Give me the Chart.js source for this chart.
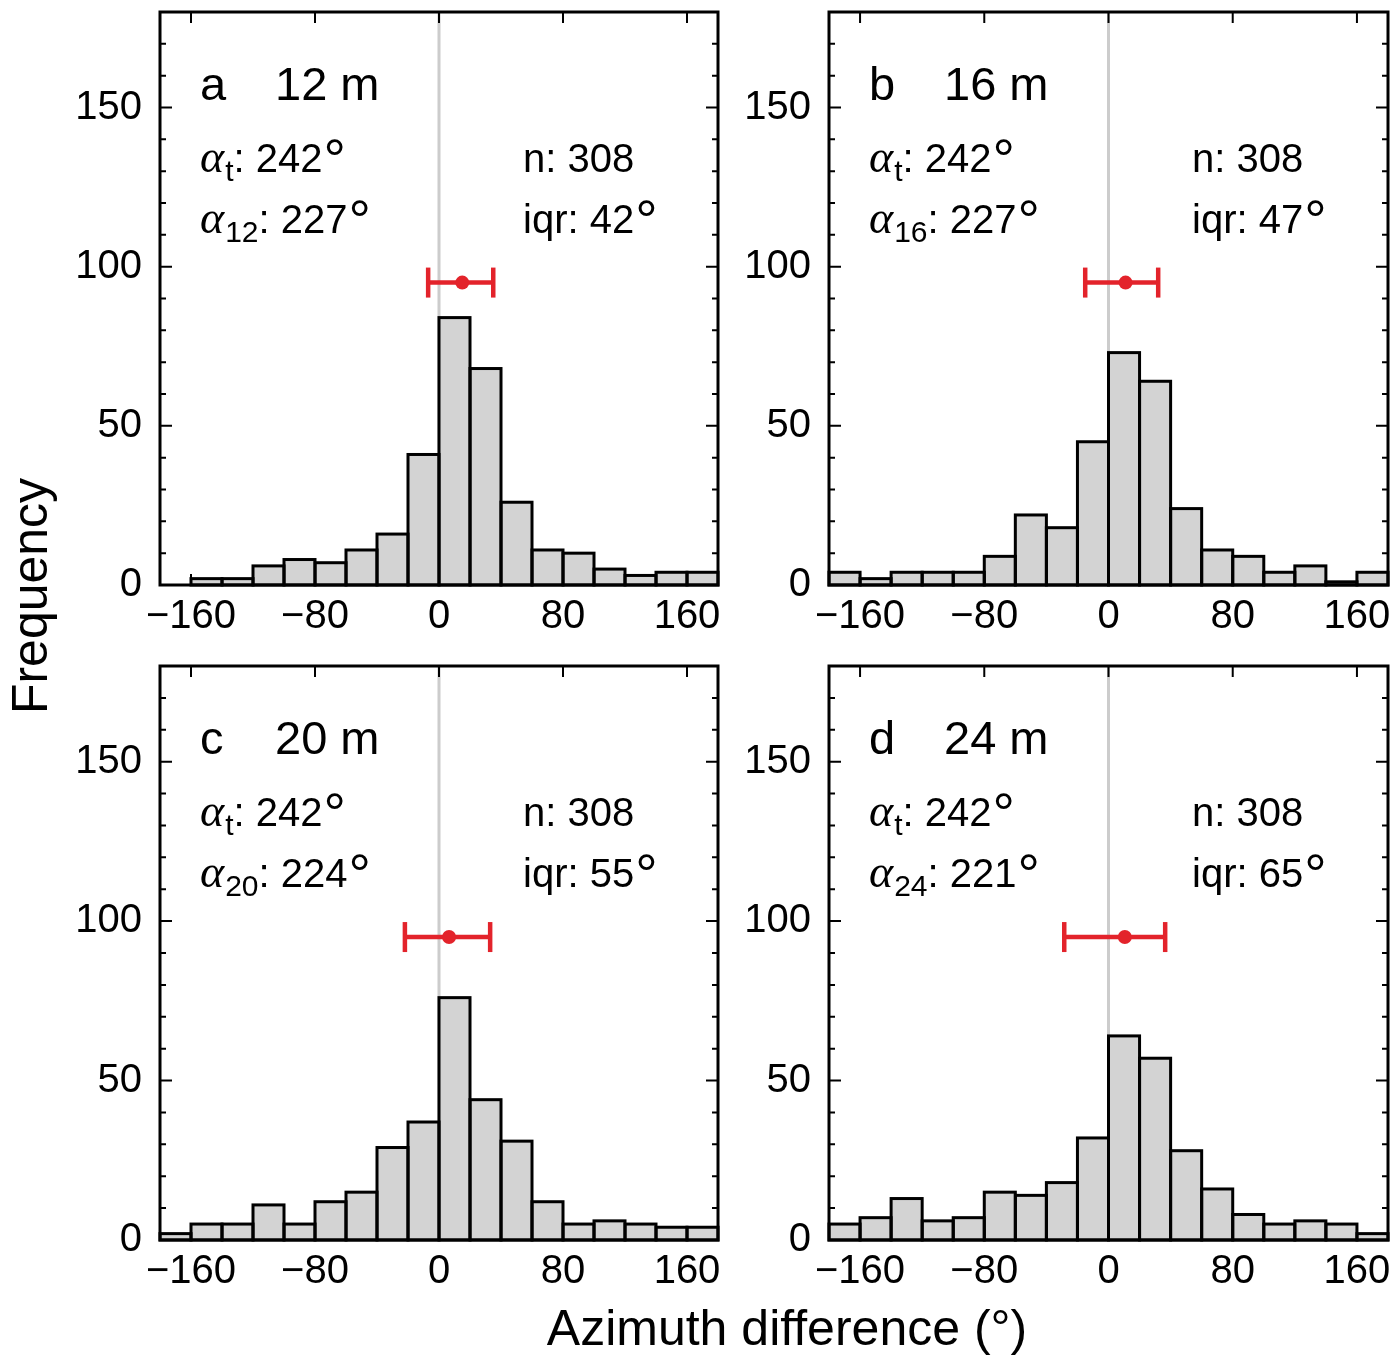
<!DOCTYPE html>
<html>
<head>
<meta charset="utf-8">
<title>Azimuth difference histograms</title>
<script src="https://cdn.jsdelivr.net/npm/chart.js@4.4.1/dist/chart.umd.min.js"></script>
<style>
  html, body { margin: 0; padding: 0; background: #fff; }
  body { width: 1400px; height: 1364px; position: relative; overflow: hidden; font-family: "Liberation Sans", Arial, sans-serif; color: #000; }
  canvas { position: absolute; }
  .axis-title { position: absolute; font-size: 50px; white-space: nowrap; transform: translate(-50%, -50%); }
  #yTitle { left: 30px; top: 596px; transform: translate(-50%, -50%) rotate(-90deg); }
  #xTitle { left: 787px; top: 1328px; }
</style>
</head>
<body>
<canvas id="panelA"></canvas>
<canvas id="panelB"></canvas>
<canvas id="panelC"></canvas>
<canvas id="panelD"></canvas>
<div id="yTitle" class="axis-title">Frequency</div>
<div id="xTitle" class="axis-title">Azimuth difference (°)</div>
<script>
// Centros de las clases (20 grados cada una)
const binCenters = [-170, -150, -130, -110, -90, -70, -50, -30, -10, 10, 30, 50, 70, 90, 110, 130, 150, 170];

// Frecuencias por panel
const counts12 = [0, 2, 2, 6, 8, 7, 11, 16, 41, 84, 68, 26, 11, 10, 5, 3, 4, 4];
const counts16 = [4, 2, 4, 4, 4, 9, 22, 18, 45, 73, 64, 24, 11, 9, 4, 6, 1, 4];
const counts20 = [2, 5, 5, 11, 5, 12, 15, 29, 37, 76, 44, 31, 12, 5, 6, 5, 4, 4];
const counts24 = [5, 7, 13, 6, 7, 15, 14, 18, 32, 64, 57, 28, 16, 8, 5, 6, 5, 2];
const panelCounts = [counts12, counts16, counts20, counts24];

// Cuartiles y mediana (barra roja)
const q1Values = [-7, -15, -22, -28.5];
const medianValues = [15, 11, 6.5, 10.5];
const q3Values = [35, 32, 33, 36.5];
const markerLevel = 95;
const referenceAzimuth = 0;

// Textos de cada panel
const panelLetters = ['a', 'b', 'c', 'd'];
const panelDepths = ['12 m', '16 m', '20 m', '24 m'];
const alphaTrue = [242, 242, 242, 242];
const alphaSubs = ['12', '16', '20', '24'];
const alphaValues = [227, 227, 224, 221];
const nValues = [308, 308, 308, 308];
const iqrValues = [42, 47, 55, 65];

// Ejes
const xTickValues = [-160, -80, 0, 80, 160];
const xTickLabels = ['\u2212160', '\u221280', '0', '80', '160'];
const yTickValues = [0, 50, 100, 150];
const yMinorValues = [10, 20, 30, 40, 60, 70, 80, 90, 110, 120, 130, 140, 160, 170];

// Caja de cada grafico en la pagina
const panelBoxes = [
    { id: 'panelA', l: 160, r: 718, t: 12, b: 585 },
    { id: 'panelB', l: 829, r: 1388, t: 12, b: 585 },
    { id: 'panelC', l: 160, r: 718, t: 666, b: 1240 },
    { id: 'panelD', l: 829, r: 1388, t: 666, b: 1240 }
];

const RED = '#e3232b';
const LEFT_GUTTER = 100;
const BOTTOM_GUTTER = 60;
const PAD = 12;

// Contorno de las barras centrado en el borde (como un histograma)
const barOutline = {
    id: 'barOutline',
    afterDatasetDraw(chart, args) {
        if (args.meta.type !== 'bar') return;
        const ctx = chart.ctx;
        ctx.save();
        ctx.strokeStyle = '#000';
        ctx.lineWidth = 3;
        ctx.lineJoin = 'miter';
        args.meta.data.forEach(bar => {
            const { x, y, base, width } = bar.getProps(['x', 'y', 'base', 'width'], true);
            if (base - y < 0.5) return;
            ctx.strokeRect(x - width / 2, y, width, base - y);
        });
        ctx.restore();
    }
};

// Marco y marcas hacia adentro en los cuatro lados
const framePlugin = {
    id: 'frame',
    afterDatasetsDraw(chart) {
        const { ctx, chartArea: a, scales: { x, y } } = chart;
        ctx.save();
        ctx.strokeStyle = '#000';
        ctx.lineWidth = 2;
        ctx.beginPath();
        xTickValues.forEach(v => {
            const px = x.getPixelForValue(v);
            ctx.moveTo(px, a.bottom); ctx.lineTo(px, a.bottom - 11);
            ctx.moveTo(px, a.top); ctx.lineTo(px, a.top + 11);
        });
        yTickValues.forEach(v => {
            const py = y.getPixelForValue(v);
            ctx.moveTo(a.left, py); ctx.lineTo(a.left + 12, py);
            ctx.moveTo(a.right, py); ctx.lineTo(a.right - 12, py);
        });
        yMinorValues.forEach(v => {
            const py = y.getPixelForValue(v);
            ctx.moveTo(a.left, py); ctx.lineTo(a.left + 6, py);
            ctx.moveTo(a.right, py); ctx.lineTo(a.right - 6, py);
        });
        ctx.stroke();
        ctx.lineWidth = 3;
        ctx.strokeRect(a.left, a.top, a.right - a.left, a.bottom - a.top);
        ctx.restore();
    }
};

function drawDegree(ctx, x, y) {
    ctx.save();
    ctx.font = '56px "Liberation Sans"';
    ctx.fillText('°', x + 1, y + 6);
    ctx.restore();
}

function drawAlphaRow(ctx, x, y, sub, value) {
    ctx.font = 'italic 46px "Liberation Serif"';
    ctx.fillText('α', x, y);
    x += ctx.measureText('α').width + 1;
    ctx.font = '30px "Liberation Sans"';
    ctx.fillText(sub, x, y + 9);
    x += ctx.measureText(sub).width;
    ctx.font = '40px "Liberation Sans"';
    const s = ': ' + value;
    ctx.fillText(s, x, y);
    x += ctx.measureText(s).width;
    drawDegree(ctx, x, y);
}

// Textos dentro de cada panel
const labelsPlugin = {
    id: 'panelLabels',
    afterDraw(chart) {
        const i = chart.options.panelIndex;
        const { ctx, chartArea: { left, top } } = chart;
        ctx.save();
        ctx.fillStyle = '#000';
        ctx.textAlign = 'left';
        ctx.textBaseline = 'alphabetic';
        ctx.font = '47px "Liberation Sans"';
        ctx.fillText(panelLetters[i], left + 40, top + 88);
        ctx.fillText(panelDepths[i], left + 115, top + 88);

        drawAlphaRow(ctx, left + 40, top + 160, 't', alphaTrue[i]);
        drawAlphaRow(ctx, left + 40, top + 221, alphaSubs[i], alphaValues[i]);

        ctx.font = '40px "Liberation Sans"';
        ctx.fillText('n: ' + nValues[i], left + 363, top + 160);
        const s = 'iqr: ' + iqrValues[i];
        ctx.fillText(s, left + 363, top + 221);
        drawDegree(ctx, left + 363 + ctx.measureText(s).width, top + 221);
        ctx.restore();
    }
};

function renderPanel(i) {
    const box = panelBoxes[i];
    const canvas = document.getElementById(box.id);
    canvas.width = (box.r - box.l) + LEFT_GUTTER + PAD;
    canvas.height = (box.b - box.t) + PAD + BOTTOM_GUTTER;
    canvas.style.left = (box.l - LEFT_GUTTER) + 'px';
    canvas.style.top = (box.t - PAD) + 'px';

    const tickFont = { family: '"Liberation Sans", Arial, sans-serif', size: 40 };

    new Chart(canvas.getContext('2d'), {
        type: 'bar',
        data: {
            datasets: [
                {
                    type: 'scatter',
                    data: [{ x: medianValues[i], y: markerLevel }],
                    pointRadius: 7,
                    pointBackgroundColor: RED,
                    pointBorderWidth: 0,
                    order: 0
                },
                {
                    type: 'scatter',
                    data: [{ x: q1Values[i], y: markerLevel }, { x: q3Values[i], y: markerLevel }],
                    pointStyle: 'line',
                    rotation: 90,
                    pointRadius: 15,
                    pointBorderColor: RED,
                    pointBorderWidth: 4.5,
                    order: 1
                },
                {
                    type: 'line',
                    data: [{ x: q1Values[i], y: markerLevel }, { x: q3Values[i], y: markerLevel }],
                    borderColor: RED,
                    borderWidth: 4.5,
                    pointRadius: 0,
                    order: 2
                },
                {
                    type: 'bar',
                    data: binCenters.map((c, k) => ({ x: c, y: panelCounts[i][k] })),
                    backgroundColor: '#d3d3d3',
                    borderWidth: 0,
                    barPercentage: 1,
                    categoryPercentage: 1,
                    order: 3
                },
                {
                    type: 'line',
                    data: [{ x: referenceAzimuth, y: 0 }, { x: referenceAzimuth, y: 180 }],
                    borderColor: '#cccccc',
                    borderWidth: 3,
                    pointRadius: 0,
                    order: 4
                }
            ]
        },
        options: {
            panelIndex: i,
            responsive: false,
            devicePixelRatio: 1,
            animation: false,
            events: [],
            layout: { autoPadding: false, padding: { top: PAD, right: PAD, left: 0, bottom: 0 } },
            plugins: { legend: { display: false }, tooltip: { enabled: false } },
            scales: {
                x: {
                    type: 'linear',
                    min: -180,
                    max: 180,
                    offset: false,
                    grid: { display: false, drawTicks: false },
                    border: { display: false },
                    afterBuildTicks: scale => { scale.ticks = xTickValues.map(v => ({ value: v })); },
                    afterFit: scale => {
                        scale.height = BOTTOM_GUTTER;
                        scale.paddingLeft = 0;
                        scale.paddingRight = 0;
                    },
                    ticks: {
                        color: '#000',
                        font: tickFont,
                        padding: 8,
                        maxRotation: 0,
                        autoSkip: false,
                        callback: v => xTickLabels[xTickValues.indexOf(v)]
                    }
                },
                y: {
                    type: 'linear',
                    min: 0,
                    max: 180,
                    grid: { display: false, drawTicks: false },
                    border: { display: false },
                    afterBuildTicks: scale => { scale.ticks = yTickValues.map(v => ({ value: v })); },
                    afterFit: scale => {
                        scale.width = LEFT_GUTTER;
                        scale.paddingTop = 0;
                        scale.paddingBottom = 0;
                    },
                    ticks: { color: '#000', font: tickFont, padding: 18, autoSkip: false }
                }
            }
        },
        plugins: [barOutline, framePlugin, labelsPlugin]
    });
}

panelBoxes.forEach((box, i) => renderPanel(i));
</script>
</body>
</html>
